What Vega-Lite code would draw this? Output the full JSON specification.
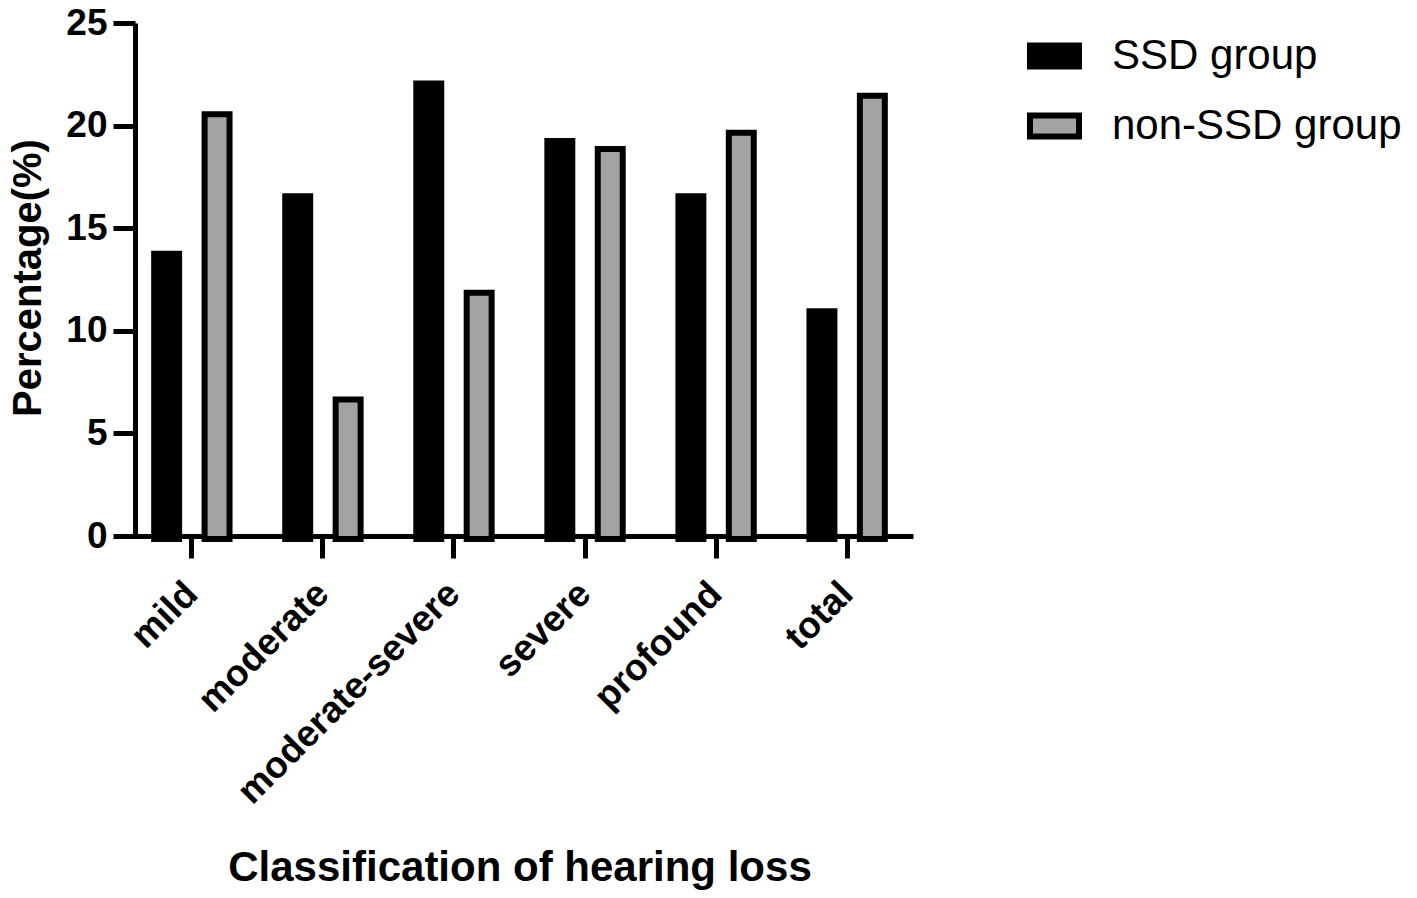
{
  "$schema": "https://vega.github.io/schema/vega-lite/v6.json",
  "autosize": "none",
  "width": 787,
  "height": 513,
  "padding": {"left": 126, "top": 23, "right": 504, "bottom": 362},
  "background": "white",
  "config": {"view": {"stroke": null}, "font": "Liberation Sans"},
  "data": {
    "values": [
      {"category": "mild", "group": "SSD group", "value": 13.9},
      {"category": "mild", "group": "non-SSD group", "value": 20.7},
      {"category": "moderate", "group": "SSD group", "value": 16.7},
      {"category": "moderate", "group": "non-SSD group", "value": 6.8},
      {"category": "moderate-severe", "group": "SSD group", "value": 22.2},
      {"category": "moderate-severe", "group": "non-SSD group", "value": 12.0},
      {"category": "severe", "group": "SSD group", "value": 19.4},
      {"category": "severe", "group": "non-SSD group", "value": 19.0},
      {"category": "profound", "group": "SSD group", "value": 16.7},
      {"category": "profound", "group": "non-SSD group", "value": 19.8},
      {"category": "total", "group": "SSD group", "value": 11.1},
      {"category": "total", "group": "non-SSD group", "value": 21.6}
    ]
  },
  "mark": {"type": "bar", "stroke": "black", "strokeWidth": 6, "yOffset": 3},
  "encoding": {
    "x": {
      "field": "category",
      "type": "nominal",
      "sort": ["mild", "moderate", "moderate-severe", "severe", "profound", "total"],
      "scale": {"paddingInner": 0.425, "paddingOuter": 0.215},
      "axis": {
        "title": "Classification of hearing loss",
        "labelAngle": -45,
        "labelAlign": "right",
        "labelBaseline": "middle",
        "labelPadding": 30,
        "labelLimit": 500,
        "labelFontWeight": "bold",
        "labelFontSize": 37,
        "labelColor": "black",
        "domainColor": "black",
        "domainWidth": 5,
        "tickColor": "black",
        "tickWidth": 5,
        "tickSize": 22,
        "titleFontSize": 42,
        "titleFontWeight": "bold",
        "titleColor": "black",
        "titleBaseline": "alphabetic",
        "titleY": 344
      }
    },
    "xOffset": {
      "field": "group",
      "type": "nominal",
      "sort": ["SSD group", "non-SSD group"],
      "scale": {"paddingInner": 0.505, "paddingOuter": 0}
    },
    "y": {
      "field": "value",
      "type": "quantitative",
      "scale": {"domain": [0, 25], "nice": false},
      "axis": {
        "values": [0, 5, 10, 15, 20, 25],
        "grid": false,
        "title": "Percentage(%)",
        "offset": -9,
        "labelFontWeight": "bold",
        "labelFontSize": 37,
        "labelColor": "black",
        "labelPadding": 6,
        "domainColor": "black",
        "domainWidth": 5,
        "tickColor": "black",
        "tickWidth": 5,
        "tickSize": 22,
        "titleFontSize": 40,
        "titleFontWeight": "bold",
        "titleColor": "black",
        "titleBaseline": "alphabetic",
        "titleX": -95,
        "titleY": 254.5
      }
    },
    "fill": {
      "field": "group",
      "type": "nominal",
      "scale": {"domain": ["SSD group", "non-SSD group"], "range": ["#000000", "#a3a3a5"]},
      "legend": {
        "title": null,
        "orient": "none",
        "legendX": 901,
        "legendY": 5.5,
        "padding": 0,
        "symbolType": "M-1,-0.43H1V0.43H-1Z",
        "symbolSize": 2401,
        "symbolStrokeColor": "black",
        "symbolStrokeWidth": 6,
        "symbolOpacity": 1,
        "labelFontSize": 42,
        "labelColor": "black",
        "labelOffset": 30,
        "rowPadding": 19,
        "labelLimit": 400
      }
    }
  }
}
